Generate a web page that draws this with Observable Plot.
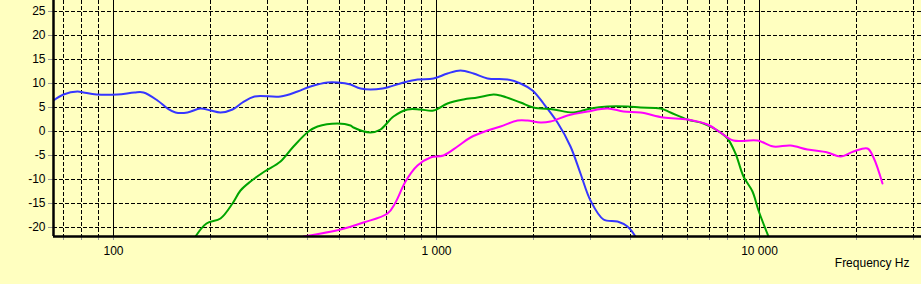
<!DOCTYPE html>
<html>
<head>
<meta charset="utf-8">
<script src="https://cdn.jsdelivr.net/npm/d3@7"></script>
<script src="https://cdn.jsdelivr.net/npm/@observablehq/plot@0.6"></script>
<style>
  html, body { margin: 0; padding: 0; background: #ffffc0; }
</style>
</head>
<body>
<div id="chart"></div>
<script>
// Blue curve (Hz, dB)
const blueFreq = [65.3, 70.3, 77.4, 81, 89, 103, 116, 124, 137, 147, 156, 170, 186, 200, 215, 234, 251, 273, 330, 371, 408, 460, 494, 543, 583, 681, 794, 874, 983, 1082, 1189, 1308, 1438, 1659, 1824, 1983, 2154, 2370, 2605, 2798, 3004, 3303, 3635, 3903, 4140];
const blueDb   = [6.5, 7.8, 8.3, 8.2, 7.7, 7.8, 8.2, 8.2, 6.6, 4.8, 4.1, 4.1, 4.8, 4.5, 3.9, 4.6, 6.1, 7.3, 7.3, 8.4, 9.4, 10.2, 10.3, 9.8, 9.1, 9.1, 10.2, 10.8, 11.2, 12.1, 12.8, 12.1, 11.2, 10.8, 10.1, 8.7, 5.9, 2.0, -3.2, -8.7, -14.3, -18.3, -18.8, -19.9, -22];

// Green curve
const greenFreq = [180, 195, 215, 234, 248, 266, 293, 330, 362, 403, 428, 494, 543, 556, 626, 672, 739, 813, 894, 983, 1082, 1217, 1340, 1508, 1582, 1824, 2005, 2313, 2667, 3004, 3384, 3903, 4291, 4947, 5314, 5985, 6739, 7413, 7961, 8445, 8965, 9513, 9972, 10710];
const greenDb   = [-22, -19.2, -18.1, -15, -12.2, -10.5, -8.4, -6.3, -3.2, 0, 1.0, 1.8, 1.3, 0.9, -0.2, 0.5, 3.1, 4.7, 4.6, 4.5, 5.9, 6.7, 7.1, 7.8, 7.6, 6.0, 5.1, 4.6, 4.1, 4.8, 5.3, 5.3, 5.1, 4.8, 4.1, 2.5, 1.7, 0.3, -1.4, -4.6, -9.4, -12.6, -16.4, -22];

// Magenta curve
const magentaFreq = [389, 505, 597, 705, 748, 804, 874, 960, 1056, 1161, 1277, 1438, 1582, 1782, 1913, 2103, 2259, 2544, 2935, 3384, 3809, 4291, 5065, 5985, 6902, 7589, 8344, 9858, 11096, 12500, 14080, 16240, 17850, 19630, 21600, 22640, 24040];
const magentaDb   = [-22, -20.5, -19, -17, -14.7, -10.5, -7, -5.4, -5.0, -3.2, -1.2, 0.2, 1.1, 2.4, 2.4, 2.0, 2.1, 3.3, 4.3, 4.8, 4.3, 4.0, 2.9, 2.5, 1.6, -0.2, -1.8, -1.9, -3.2, -2.8, -3.7, -4.4, -5.1, -4.2, -3.6, -5.3, -10.8];

// Axes
const xDecades = [100, 1000, 10000];
const xDecadeLabels = ["100", "1 000", "10 000"];
const xMinor = [70, 80, 90, 200, 300, 400, 500, 600, 700, 800, 900, 2000, 3000, 4000, 5000, 6000, 7000, 8000, 9000, 20000, 30000];
const yTicks = [-20, -15, -10, -5, 0, 5, 10, 15, 20, 25];
const xDomain = [65.3, 31800];
const yDomain = [-21.9, 27.4];

const toRows = (f, d) => f.map((v, i) => ({f: v, db: d[i]}));
const blue = toRows(blueFreq, blueDb);
const green = toRows(greenFreq, greenDb);
const magenta = toRows(magentaFreq, magentaDb);
const allX = [...xMinor, ...xDecades].sort((a, b) => a - b);

const chart = Plot.plot({
  width: 921,
  height: 284,
  marginLeft: 53,
  marginRight: 0,
  marginTop: 0,
  marginBottom: 48,
  style: {background: "#ffffc0", fontFamily: "'Liberation Sans', Arial, sans-serif", fontSize: "12px", color: "black"},
  x: {type: "log", domain: xDomain, axis: null, round: true},
  y: {domain: yDomain, axis: null, round: true},
  marks: [
    Plot.ruleX(xMinor, {stroke: "black", strokeDasharray: "4,2", strokeWidth: 1}),
    Plot.ruleX(xDecades, {stroke: "black", strokeWidth: 1}),
    Plot.ruleY(yTicks, {stroke: "black", strokeDasharray: "4,2", strokeWidth: 1}),
    Plot.axisX(allX, {tickSize: 4, tickPadding: 6, stroke: "#999", fill: "black", tickFormat: d => { const i = xDecades.indexOf(d); return i >= 0 ? xDecadeLabels[i] : ""; }, label: null}),
    Plot.axisY(yTicks, {tickSize: 5, tickPadding: 3, stroke: "#999", fill: "black", tickFormat: d => String(d), label: null}),
    Plot.line(blue, {x: "f", y: "db", stroke: "#3636ff", strokeWidth: 2, curve: "catmull-rom", clip: true}),
    Plot.line(green, {x: "f", y: "db", stroke: "#00a400", strokeWidth: 2, curve: "catmull-rom", clip: true}),
    Plot.line(magenta, {x: "f", y: "db", stroke: "#ff00ff", strokeWidth: 2, curve: "catmull-rom", clip: true}),
    Plot.ruleX([xDomain[0]], {stroke: "black", strokeWidth: 2.5}),
    Plot.ruleY([yDomain[0]], {stroke: "black", strokeWidth: 2.5}),
    Plot.text(["Frequency Hz"], {frameAnchor: "bottom-right", dx: -12, dy: 30, textAnchor: "end", fill: "black"})
  ]
});
document.getElementById("chart").appendChild(chart);
</script>
</body>
</html>
